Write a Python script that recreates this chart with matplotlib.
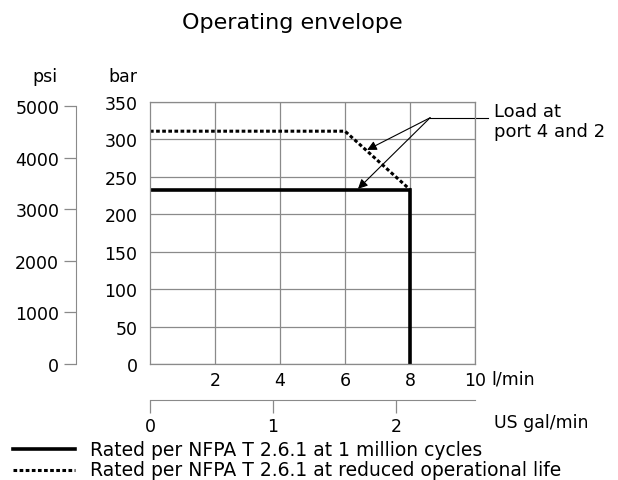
import matplotlib.pyplot as plt

plt.rcParams['font.family'] = ['DejaVu Sans']

# rated at 1 million cycles (l/min, bar)
solid_x = [0, 8, 8]
solid_y = [232, 232, 0]
# rated at reduced operational life
dot_x = [0, 6, 8]
dot_y = [311, 311, 233]

lmin_ticks = [2, 4, 6, 8, 10]
lmin_labels = ['2', '4', '6', '8', '10']
bar_ticks = [0, 50, 100, 150, 200, 250, 300, 350]
psi_ticks = [0, 1000, 2000, 3000, 4000, 5000]
gal_ticks = [0, 1, 2]

BAR2PSI = 14.5038
GAL2L = 3.78541
grid_c = '#8a8a8a'
fs = 12.5

fig = plt.figure(figsize=(6.18, 4.81), dpi=100)
ax = fig.add_axes([150/618, 1-365/481, 325/618, 262/481])
ax.set_xlim(0, 10)
ax.set_ylim(0, 350)

ax.plot(solid_x, solid_y, color='black', lw=2.6, solid_joinstyle='miter')
ax.plot(dot_x, dot_y, color='black', lw=2.2, ls=(0, (1.2, 0.8)))

ax.set_xticks(lmin_ticks)
ax.set_xticklabels(lmin_labels)
ax.set_yticks(bar_ticks)
ax.tick_params(axis='x', length=0, labelsize=fs, pad=5)
ax.tick_params(axis='y', length=0, labelsize=fs, pad=9)
ax.grid(True, color=grid_c, lw=0.9)
for s in ax.spines.values():
    s.set_color(grid_c)
    s.set_linewidth(0.9)
ax.text(1.05, -0.021, 'l/min', transform=ax.transAxes, fontsize=fs, va='top', ha='left')

# psi axis
psi = ax.secondary_yaxis(-0.228, functions=(lambda b: b * BAR2PSI, lambda p: p / BAR2PSI))
psi.set_yticks(psi_ticks)
psi.tick_params(length=9, width=0.9, color=grid_c, labelsize=fs, pad=3)
psi.spines['left'].set_color(grid_c)
psi.spines['left'].set_bounds(0, 5000)

# US gal/min axis
gal = ax.secondary_xaxis(-0.138, functions=(lambda l: l / GAL2L, lambda g: g * GAL2L))
gal.set_xticks(gal_ticks)
gal.tick_params(length=9, width=0.9, color=grid_c, labelsize=fs, pad=3)
gal.spines['bottom'].set_color(grid_c)
fig.text(494/618, 1-423/481, 'US gal/min', fontsize=fs, va='center')

fig.text(45/618, 1-77/481, 'psi', fontsize=fs, ha='center', va='center')
fig.text(123/618, 1-77/481, 'bar', fontsize=fs, ha='center', va='center')
fig.text(292/618, 1-23/481, 'Operating envelope', fontsize=16, ha='center', va='center')

# load annotation
src = (8.62, 329)
for tip in [(6.68, 286), (6.4, 234)]:
    ax.annotate('', xy=tip, xytext=src,
                arrowprops=dict(arrowstyle='-|>', color='black', lw=0.8, mutation_scale=14,
                                shrinkA=0, shrinkB=0),
                annotation_clip=False)
ax.plot([src[0], 10.4], [src[1], src[1]], color='black', lw=0.8, clip_on=False)
fig.text(494/618, 1-122/481, 'Load at\nport 4 and 2', fontsize=13, va='center', linespacing=1.1)

# legend
fig.lines.append(plt.Line2D([13/618, 75/618], [1-450/481]*2, color='black', lw=2.6, transform=fig.transFigure))
fig.lines.append(plt.Line2D([13/618, 75/618], [1-471/481]*2, color='black', lw=2.2, ls=(0, (1.2, 0.8)),
                            transform=fig.transFigure))
fig.text(90/618, 1-450/481, 'Rated per NFPA T 2.6.1 at 1 million cycles', fontsize=13.5, va='center')
fig.text(90/618, 1-471/481, 'Rated per NFPA T 2.6.1 at reduced operational life', fontsize=13.5, va='center')

fig.savefig('out.png', dpi=100)
